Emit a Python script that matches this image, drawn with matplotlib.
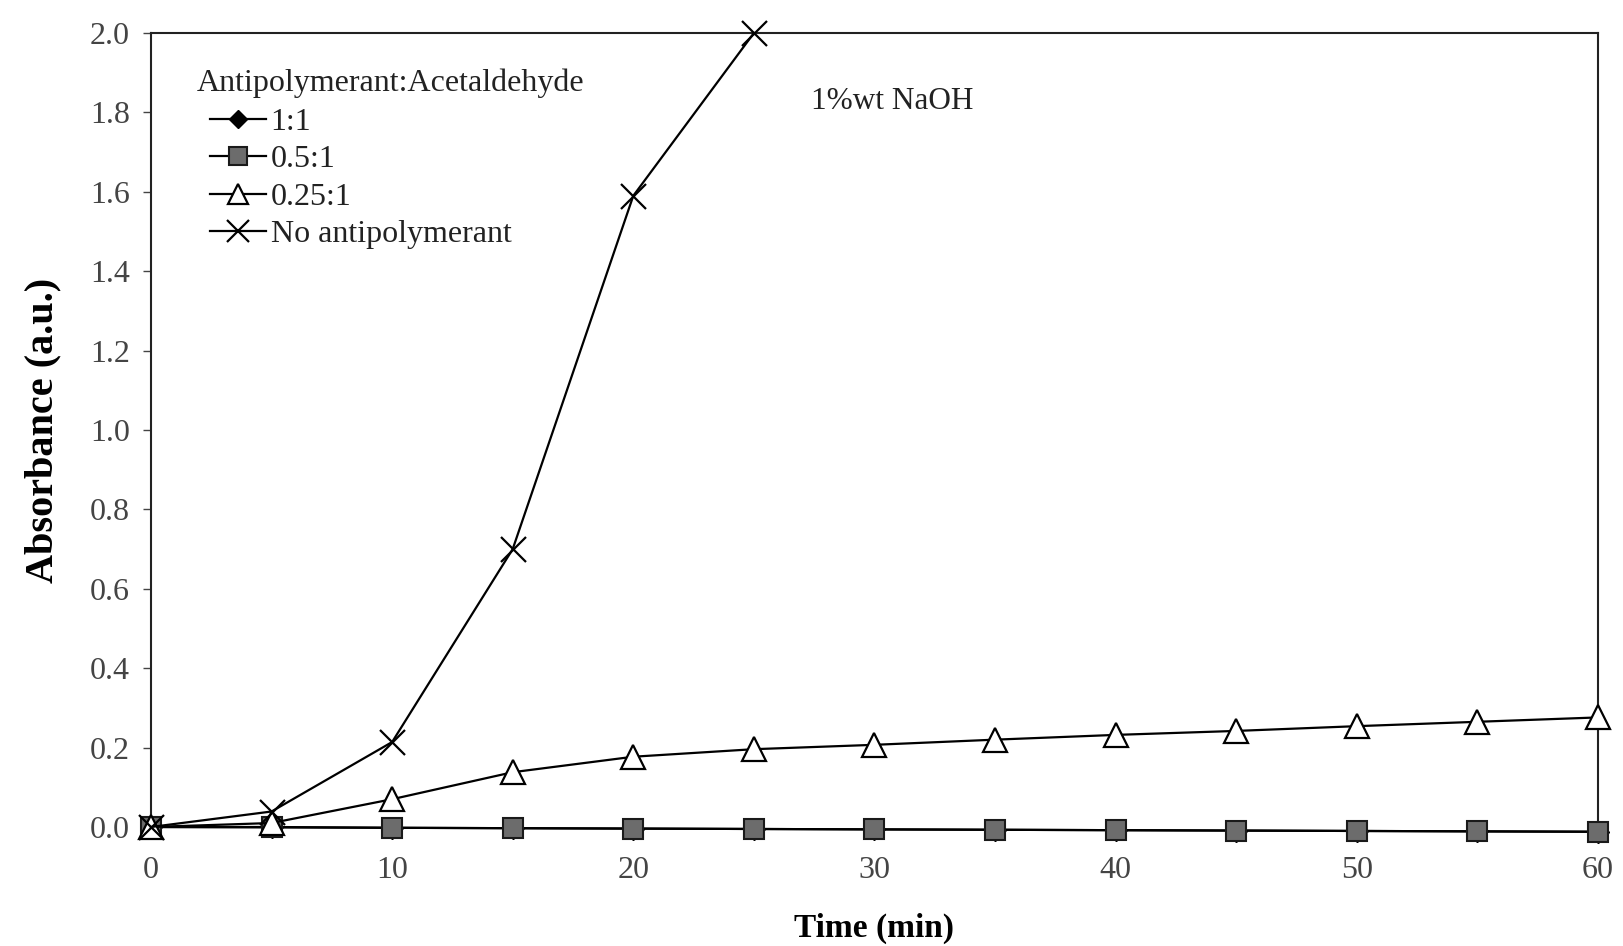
import matplotlib
matplotlib.use("Agg")
import matplotlib.pyplot as plt

# Sampling times (min)
time = [0, 5, 10, 15, 20, 25, 30, 35, 40, 45, 50, 55, 60]
time_none = [0, 5, 10, 15, 20, 25]

# Absorbance (a.u.) for each antipolymerant:acetaldehyde ratio
abs_1_1 = [0.0, -0.001, -0.002, -0.003, -0.004, -0.005, -0.006, -0.007, -0.008, -0.009, -0.010, -0.011, -0.012]
abs_05_1 = [0.0, 0.0, -0.002, -0.003, -0.004, -0.005, -0.006, -0.007, -0.008, -0.009, -0.010, -0.011, -0.012]
abs_025_1 = [0.0, 0.01, 0.07, 0.138, 0.177, 0.196, 0.207, 0.220, 0.232, 0.242, 0.254, 0.265, 0.276]
abs_none = [0.0, 0.039, 0.214, 0.70, 1.59, 2.0]

series_labels = ["1:1", "0.5:1", "0.25:1", "No antipolymerant"]
legend_title = "Antipolymerant:Acetaldehyde"
y_ticks = [0.0, 0.2, 0.4, 0.6, 0.8, 1.0, 1.2, 1.4, 1.6, 1.8, 2.0]
x_ticks = [0, 10, 20, 30, 40, 50, 60]

plt.rcParams["font.family"] = ["Liberation Serif", "DejaVu Serif"]

fig = plt.figure(figsize=(16.23, 9.46), dpi=100)
ax = fig.add_axes([0.0930, 0.1258, 0.9846 - 0.0930, 0.9651 - 0.1258])

lw = 1.6
common = dict(color="black", linewidth=lw, clip_on=False)
ax.plot(time, abs_1_1, marker="D", markersize=11, markerfacecolor="black",
        markeredgecolor="black", label=series_labels[0], zorder=3, **common)
ax.plot(time, abs_05_1, marker="s", markersize=15, markerfacecolor="#6c6c6c",
        markeredgecolor="#1a1a1a", markeredgewidth=1.5, label=series_labels[1], zorder=4, **common)
ax.plot(time, abs_025_1, marker="^", markersize=17, markerfacecolor="white",
        markeredgecolor="black", markeredgewidth=1.6, label=series_labels[2], zorder=5, **common)
ax.plot(time_none, abs_none, marker="x", markersize=18, markeredgecolor="black",
        markeredgewidth=1.6, label=series_labels[3], zorder=6, **common)

ax.set_xlim(0, 60)
ax.set_ylim(0, 2.0)
ax.set_xticks(x_ticks)
ax.set_yticks(y_ticks)
ax.set_yticklabels([f"{v:.1f}" for v in y_ticks])

for side in ["left", "top", "right"]:
    ax.spines[side].set_color("#222222")
    ax.spines[side].set_linewidth(1.5)
ax.spines["bottom"].set_visible(False)

ax.tick_params(axis="y", direction="out", length=6, width=1.0, color="#444444",
               pad=9, labelsize=23, labelcolor="#444444")
ax.tick_params(axis="x", length=0, pad=21, labelsize=23, labelcolor="#444444")

ax.set_ylabel("Absorbance (a.u.)", fontsize=29, fontweight="bold", labelpad=21)
ax.set_xlabel("Time (min)", fontsize=24, fontweight="bold", labelpad=20)

ax.text(0.4558, 0.9135, "1%wt NaOH", transform=ax.transAxes, fontsize=22.5,
        color="#222222", va="center", ha="left")

# Legend heading drawn separately so the entries sit slightly indented
ax.text(0.0318, 0.937, legend_title, transform=ax.transAxes, fontsize=23,
        color="#222222", va="center", ha="left")

leg = ax.legend(loc="upper left", bbox_to_anchor=(0.0408, 0.906), frameon=False,
                fontsize=23, handlelength=1.75, handletextpad=0.15,
                labelspacing=0.25, borderaxespad=0.0, borderpad=0.0,
                markerscale=0.85)
for t in leg.get_texts():
    t.set_color("#222222")

fig.savefig("out.png", dpi=100)
